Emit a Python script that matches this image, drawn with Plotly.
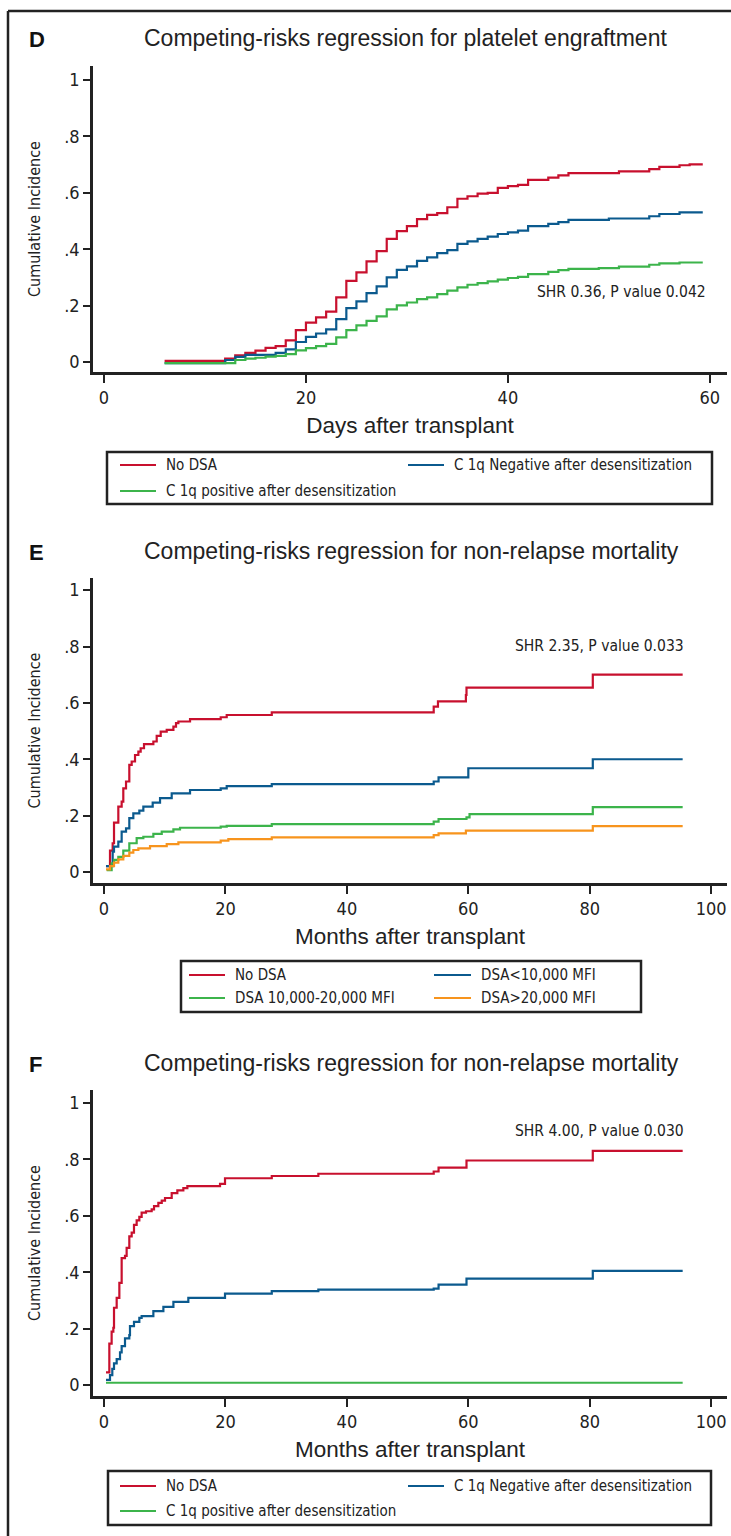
import plotly.graph_objects as go

W, H = 731, 1536

# ---------------- Panel D data (days) ----------------
d_red_x = [6, 12, 13, 14, 15, 16, 17, 18, 19, 20, 21, 22, 23, 24, 25, 26, 27, 28, 29, 30, 31, 32, 33, 34, 35,
           36, 37, 38, 39, 40, 41, 42, 44, 45, 46, 51, 54, 55, 57, 58, 59.3]
d_red_y = [0.004, 0.012, 0.024, 0.032, 0.040, 0.050, 0.056, 0.077, 0.113, 0.140, 0.158, 0.179, 0.229, 0.288,
           0.318, 0.357, 0.393, 0.437, 0.464, 0.482, 0.507, 0.522, 0.528, 0.549, 0.579, 0.588, 0.597, 0.600,
           0.618, 0.624, 0.628, 0.646, 0.654, 0.662, 0.670, 0.676, 0.684, 0.692, 0.698, 0.701, 0.701]
d_blue_x = [6, 12, 13, 14, 17, 18, 19, 20, 21, 22, 23, 24, 25, 26, 27, 28, 29, 30, 31, 32, 33, 34, 35, 36, 37,
            38, 39, 40, 41, 42, 44, 45, 46, 50, 54, 55, 57, 59.3]
d_blue_y = [-0.004, 0.007, 0.018, 0.025, 0.032, 0.045, 0.071, 0.089, 0.101, 0.116, 0.152, 0.191, 0.215, 0.244,
            0.268, 0.300, 0.327, 0.339, 0.359, 0.371, 0.386, 0.397, 0.419, 0.428, 0.437, 0.445, 0.454, 0.460,
            0.466, 0.482, 0.490, 0.496, 0.504, 0.509, 0.517, 0.525, 0.531, 0.531]
d_green_x = [6, 13, 14, 15, 16, 17, 18, 19, 20, 21, 22, 23, 24, 25, 26, 27, 28, 29, 30, 31, 32, 33, 34, 35, 36,
             37, 38, 39, 40, 41, 42, 44, 45, 46, 49, 51, 54, 55, 57, 59.3]
d_green_y = [-0.004, 0.007, 0.012, 0.015, 0.019, 0.022, 0.028, 0.041, 0.049, 0.056, 0.064, 0.087, 0.113, 0.130,
             0.146, 0.162, 0.187, 0.201, 0.211, 0.223, 0.229, 0.241, 0.253, 0.265, 0.274, 0.280, 0.286, 0.292,
             0.298, 0.302, 0.312, 0.320, 0.326, 0.330, 0.333, 0.338, 0.345, 0.350, 0.353, 0.353]

# ---------------- Panel E data (months) ----------------
e_red_x = [0.33, 0.99, 1.43, 1.65, 2.36, 2.91, 3.18, 3.63, 4.17, 4.56, 5.11, 5.66, 6.04, 6.59, 8.13, 8.68, 9.34,
           10.33, 11.43, 11.86, 12.25, 14.17, 19.22, 20.21, 27.63, 54.3, 55.0, 59.6, 59.7, 80.5, 95.3]
e_red_y = [0.021, 0.076, 0.102, 0.175, 0.232, 0.250, 0.297, 0.321, 0.380, 0.392, 0.415, 0.427, 0.439, 0.454,
           0.463, 0.483, 0.498, 0.504, 0.516, 0.528, 0.534, 0.542, 0.549, 0.557, 0.566, 0.587, 0.605, 0.628,
           0.654, 0.700, 0.700]
e_blue_x = [0.33, 1.43, 1.65, 2.36, 2.91, 3.63, 4.17, 4.83, 5.82, 6.48, 8.02, 9.23, 11.15, 14.17, 19.22, 20.21,
            27.63, 54.3, 55.1, 60.0, 80.5, 95.3]
e_blue_y = [0.021, 0.072, 0.090, 0.108, 0.143, 0.155, 0.191, 0.208, 0.218, 0.232, 0.246, 0.262, 0.279, 0.291,
            0.297, 0.305, 0.312, 0.321, 0.336, 0.368, 0.400, 0.400]
e_green_x = [0.44, 1.26, 1.65, 2.36, 3.18, 4.17, 5.38, 6.48, 8.13, 9.51, 11.43, 12.52, 19.22, 20.21, 27.63, 54.3,
             55.1, 59.7, 60.2, 80.5, 95.3]
e_green_y = [0.007, 0.031, 0.043, 0.054, 0.076, 0.102, 0.120, 0.125, 0.135, 0.143, 0.151, 0.157, 0.161, 0.164,
             0.170, 0.179, 0.188, 0.194, 0.205, 0.230, 0.230]
e_orange_x = [0.33, 0.99, 1.65, 2.36, 3.18, 4.17, 4.83, 5.66, 7.58, 10.33, 12.25, 19.22, 20.48, 27.63, 54.3,
              55.1, 59.6, 80.5, 95.3]
e_orange_y = [0.009, 0.021, 0.033, 0.045, 0.057, 0.069, 0.078, 0.084, 0.092, 0.099, 0.105, 0.111, 0.117, 0.123,
              0.131, 0.137, 0.147, 0.163, 0.163]

# ---------------- Panel F data (months) ----------------
f_red_x = [0.33, 0.88, 1.26, 1.54, 1.65, 2.09, 2.53, 2.91, 3.46, 3.73, 4.17, 4.56, 4.94, 5.38, 5.82, 6.20, 6.92,
           7.85, 8.24, 8.95, 9.51, 10.05, 11.15, 12.08, 13.07, 13.73, 19.11, 19.93, 27.63, 35.3, 54.3, 55.1,
           59.7, 80.5, 95.3]
f_red_y = [0.045, 0.147, 0.189, 0.203, 0.274, 0.309, 0.362, 0.450, 0.458, 0.486, 0.527, 0.540, 0.568, 0.584,
           0.596, 0.611, 0.616, 0.623, 0.634, 0.646, 0.654, 0.663, 0.680, 0.690, 0.698, 0.705, 0.713, 0.733,
           0.741, 0.749, 0.757, 0.771, 0.796, 0.830, 0.830]
f_blue_x = [0.33, 0.99, 1.37, 1.65, 2.09, 2.64, 2.91, 3.46, 4.17, 4.28, 4.94, 5.82, 6.20, 8.13, 9.78, 11.43,
            13.89, 19.93, 27.63, 35.3, 54.3, 55.1, 59.7, 80.5, 95.3]
f_blue_y = [0.018, 0.035, 0.057, 0.077, 0.092, 0.116, 0.138, 0.165, 0.177, 0.209, 0.224, 0.238, 0.244, 0.262,
            0.277, 0.295, 0.309, 0.324, 0.333, 0.338, 0.342, 0.356, 0.377, 0.405, 0.405]
f_green_x = [0.33, 95.3]
f_green_y = [0.008, 0.008]

# ---------------- Text ----------------
titles = ["Competing-risks regression for platelet engraftment",
          "Competing-risks regression for non-relapse mortality",
          "Competing-risks regression for non-relapse mortality"]
letters = ["D", "E", "F"]
x_titles = ["Days after transplant", "Months after transplant", "Months after transplant"]
y_title = "Cumulative Incidence"
shr_texts = ["SHR 0.36, P value 0.042", "SHR 2.35, P value 0.033", "SHR 4.00, P value 0.030"]
legend_c1q = ["No DSA", "C 1q Negative after desensitization", "C 1q positive after desensitization"]
legend_mfi = ["No DSA", "DSA<10,000 MFI", "DSA 10,000-20,000 MFI", "DSA>20,000 MFI"]
y_tickvals = [0, 0.2, 0.4, 0.6, 0.8, 1]
y_ticktext = ["0", ".2", ".4", ".6", ".8", "1"]
d_xticks = [0, 20, 40, 60]
m_xticks = [0, 20, 40, 60, 80, 100]

RED, BLUE, GREEN, ORANGE = "#c8102e", "#0b5a8e", "#3cb44b", "#f7941d"
AX = "#222222"
COND = "Liberation Sans Narrow, DejaVu Sans Condensed, Arial Narrow, sans-serif"
REG = "Liberation Sans, Arial, sans-serif"


def px(p):
    return p / W


def py(p):
    return 1 - p / H


fig = go.Figure()

panels = [
    dict(series=[(d_red_x, d_red_y, RED, legend_c1q[0]), (d_blue_x, d_blue_y, BLUE, legend_c1q[1]),
                 (d_green_x, d_green_y, GREEN, legend_c1q[2])],
         xr=[-1.09, 61.7], yr=[-0.0355, 1.05], ytop=66, ybot=372, ticks=d_xticks,
         title_y=38, shr=(59.8, 0.25)),
    dict(series=[(e_red_x, e_red_y, RED, legend_mfi[0]), (e_blue_x, e_blue_y, BLUE, legend_mfi[1]),
                 (e_green_x, e_green_y, GREEN, legend_mfi[2]), (e_orange_x, e_orange_y, ORANGE, legend_mfi[3])],
         xr=[-1.81, 102.6], yr=[-0.039, 1.043], ytop=578, ybot=883, ticks=m_xticks,
         title_y=551, shr=(95.9, 0.80)),
    dict(series=[(f_red_x, f_red_y, RED, legend_c1q[0]), (f_blue_x, f_blue_y, BLUE, legend_c1q[1]),
                 (f_green_x, f_green_y, GREEN, legend_c1q[2])],
         xr=[-1.81, 102.6], yr=[-0.039, 1.046], ytop=1090, ybot=1396, ticks=m_xticks,
         title_y=1063, shr=(95.9, 0.90)),
]

annotations = []
shapes = []
layout_axes = {}
for i, p in enumerate(panels):
    n = "" if i == 0 else str(i + 1)
    for (xs, ys, col, name) in p["series"]:
        fig.add_trace(go.Scatter(x=xs, y=ys, mode="lines", line=dict(color=col, width=2.2, shape="hv"),
                                 name=name, showlegend=False, xaxis="x" + n, yaxis="y" + n))
    layout_axes["xaxis" + n] = dict(domain=[px(93), px(727)], range=p["xr"], anchor="y" + n,
                                    tickvals=p["ticks"], ticks="outside", ticklen=8, tickwidth=1.5,
                                    tickcolor=AX, showline=True, linecolor=AX, linewidth=2.5,
                                    showgrid=False, zeroline=False,
                                    tickfont=dict(family=COND, size=18, color="#222"),
                                    title=dict(text=x_titles[i], font=dict(family=REG, size=22.5, color="#222"),
                                               standoff=10))
    layout_axes["yaxis" + n] = dict(domain=[py(p["ybot"]), py(p["ytop"])], range=p["yr"], anchor="x" + n,
                                    tickvals=y_tickvals, ticktext=y_ticktext, ticks="outside", ticklen=7,
                                    tickwidth=1.5, tickcolor=AX, showline=True, linecolor=AX, linewidth=2.5,
                                    showgrid=False, zeroline=False,
                                    tickfont=dict(family=COND, size=18, color="#222"),
                                    title=dict(text=y_title, font=dict(family=COND, size=16, color="#222"),
                                               standoff=20))
    # panel title and letter
    annotations.append(dict(text=titles[i], x=px(142), y=py(p["title_y"]), xref="paper", yref="paper",
                            xanchor="left", yanchor="middle", showarrow=False,
                            font=dict(family=REG, size=23, color="#222")))
    annotations.append(dict(text="<b>" + letters[i] + "</b>", x=px(27), y=py(p["title_y"] + 1), xref="paper",
                            yref="paper", xanchor="left", yanchor="middle", showarrow=False,
                            font=dict(family=REG, size=22, color="#111")))
    annotations.append(dict(text=shr_texts[i], x=p["shr"][0], y=p["shr"][1], xref="x" + n, yref="y" + n,
                            xanchor="right", yanchor="middle", showarrow=False,
                            font=dict(family=COND, size=15.5, color="#222")))


def legend_box(x0, x1, y0, y1, items):
    shapes.append(dict(type="rect", xref="paper", yref="paper", x0=px(x0), x1=px(x1), y0=py(y1), y1=py(y0),
                       line=dict(color=AX, width=2.5), fillcolor="rgba(0,0,0,0)"))
    for (lx0, lx1, ly, tx, text, col) in items:
        shapes.append(dict(type="line", xref="paper", yref="paper", x0=px(lx0), x1=px(lx1), y0=py(ly), y1=py(ly),
                           line=dict(color=col, width=2)))
        annotations.append(dict(text=text, x=px(tx), y=py(ly), xref="paper", yref="paper", xanchor="left",
                                yanchor="middle", showarrow=False, font=dict(family=COND, size=15, color="#222")))


legend_box(107, 712, 452, 504, [(120, 156, 465, 164, legend_c1q[0], RED),
                                (408, 444, 465, 452, legend_c1q[1], BLUE),
                                (120, 156, 491, 164, legend_c1q[2], GREEN)])
legend_box(181, 641, 961, 1012, [(189, 225, 975, 233, legend_mfi[0], RED),
                                 (434, 471, 975, 479, legend_mfi[1], BLUE),
                                 (189, 225, 998, 233, legend_mfi[2], GREEN),
                                 (434, 471, 998, 479, legend_mfi[3], ORANGE)])
legend_box(108, 711, 1471, 1525, [(120, 156, 1486, 164, legend_c1q[0], RED),
                                  (408, 444, 1486, 452, legend_c1q[1], BLUE),
                                  (120, 156, 1511, 164, legend_c1q[2], GREEN)])

# outer frame (top and left edges)
shapes.append(dict(type="line", xref="paper", yref="paper", x0=px(8), x1=1, y0=py(11), y1=py(11),
                   line=dict(color=AX, width=2.5)))
shapes.append(dict(type="line", xref="paper", yref="paper", x0=px(8), x1=px(8), y0=0, y1=py(11),
                   line=dict(color=AX, width=2.5)))

fig.update_layout(width=W, height=H, margin=dict(l=0, r=0, t=0, b=0), paper_bgcolor="white",
                  plot_bgcolor="white", showlegend=False, annotations=annotations, shapes=shapes,
                  **layout_axes)

fig.write_html("out.html", config={"displayModeBar": False},
               post_script="document.body.style.margin='0';document.body.style.overflow='hidden';")
